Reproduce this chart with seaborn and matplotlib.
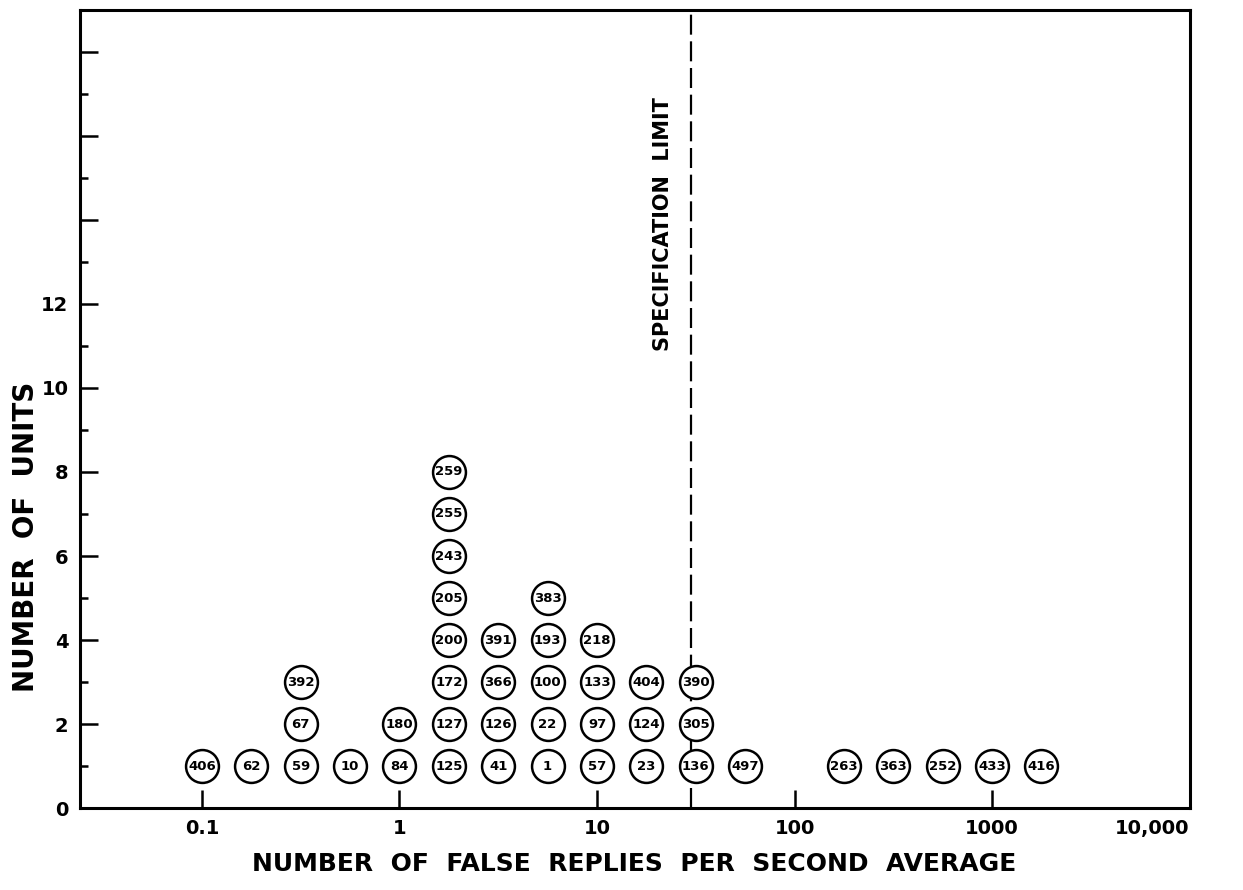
import pandas as pd
import matplotlib
matplotlib.use("Agg")
import matplotlib.pyplot as plt
import seaborn as sns
from matplotlib.ticker import FixedLocator, NullLocator

sns.set_style("ticks")
plt.rcParams['font.family'] = ['DejaVu Sans']
plt.rcParams['text.color'] = 'black'
plt.rcParams['axes.labelcolor'] = 'black'
plt.rcParams['xtick.color'] = 'black'
plt.rcParams['ytick.color'] = 'black'

# bin positions (false replies per second, quarter-decade steps)
bin_rates = [0.1, 0.178, 0.316, 0.562, 1, 1.78, 3.16, 5.62, 10, 17.8,
             31.6, 56.2, 178, 316, 562, 1000, 1780]

# unit serial numbers stacked in each bin, bottom to top
unit_ids = [
    ["406"],
    ["62"],
    ["59", "67", "392"],
    ["10"],
    ["84", "180"],
    ["125", "127", "172", "200", "205", "243", "255", "259"],
    ["41", "126", "366", "391"],
    ["1", "22", "100", "193", "383"],
    ["57", "97", "133", "218"],
    ["23", "124", "404"],
    ["136", "305", "390"],
    ["497"],
    ["263"],
    ["363"],
    ["252"],
    ["433"],
    ["416"],
]

spec_limit = 30
x_ticks = [0.1, 1, 10, 100, 1000, 10000]
x_tick_labels = ["0.1", "1", "10", "100", "1000", "10,000"]
y_major = list(range(0, 19, 2))
y_labels = ["0", "2", "4", "6", "8", "10", "12", "", "", ""]

# build one row per unit, stacked count gives the height
rows = []
for rate, ids in zip(bin_rates, unit_ids):
    for i, uid in enumerate(ids):
        rows.append({"rate": rate, "units": i + 1, "unit_id": uid})
df = pd.DataFrame(rows)

fig = plt.figure(figsize=(12.43, 8.9), dpi=100)
ax = fig.add_axes([0.064, 0.092, 0.893, 0.897])

sns.scatterplot(data=df, x="rate", y="units", ax=ax, s=560, marker="o",
                facecolor="white", edgecolor="black", linewidth=1.8,
                zorder=3, legend=False)
for _, r in df.iterrows():
    ax.text(r["rate"], r["units"], r["unit_id"], ha="center", va="center",
            fontsize=9.5, fontweight="bold", zorder=4, color="black")

# specification limit
ax.axvline(spec_limit, color="black", lw=1.6, dashes=(9, 3), zorder=2)
ax.text(21.5, 13.9, "SPECIFICATION  LIMIT", rotation=90, ha="center",
        va="center", fontsize=15, fontweight="bold")

ax.set_xscale("log")
ax.set_xlim(0.024, 10000)
ax.set_ylim(0, 19)

ax.xaxis.set_major_locator(FixedLocator(x_ticks))
ax.set_xticklabels(x_tick_labels)
ax.xaxis.set_minor_locator(NullLocator())
ax.yaxis.set_major_locator(FixedLocator(y_major))
ax.set_yticklabels(y_labels)
ax.yaxis.set_minor_locator(FixedLocator(range(1, 19, 2)))

ax.tick_params(axis="both", which="major", direction="in", length=13,
               width=1.8, labelsize=14, pad=8)
ax.tick_params(axis="y", which="minor", direction="in", length=6, width=1.8)
for lab in ax.get_xticklabels() + ax.get_yticklabels():
    lab.set_fontweight("bold")
ax.get_xticklabels()[-1].set_horizontalalignment("right")

for sp in ax.spines.values():
    sp.set_linewidth(2.2)
    sp.set_color("black")

ax.set_xlabel("NUMBER  OF  FALSE  REPLIES  PER  SECOND  AVERAGE",
              fontsize=18, fontweight="bold", labelpad=10)
ax.set_ylabel("NUMBER  OF  UNITS", fontsize=20, fontweight="bold",
              va="center")
ax.yaxis.set_label_coords(-0.048, 0.34)

fig.savefig("out.png", dpi=100)
